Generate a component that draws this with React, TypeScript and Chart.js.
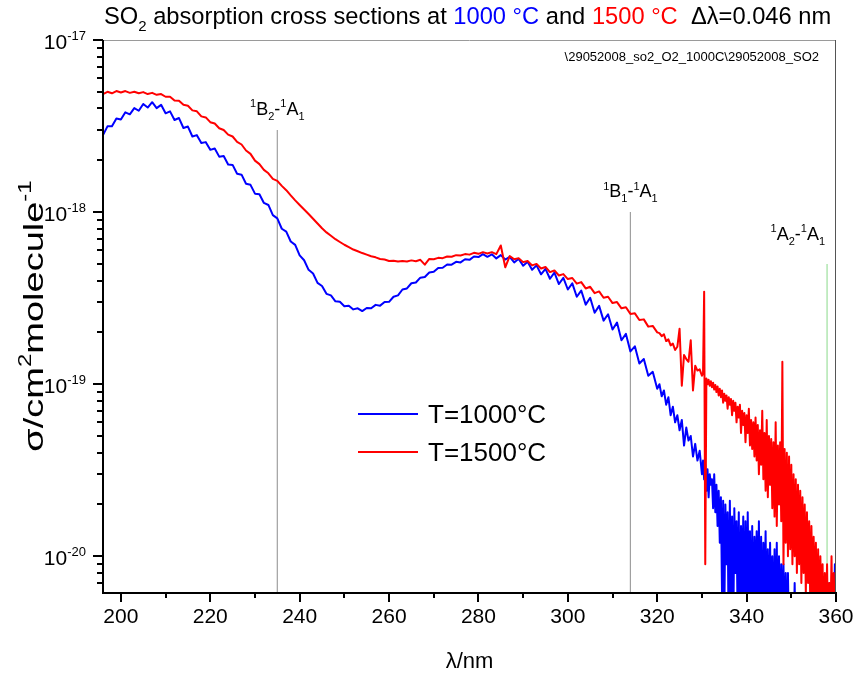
import React, { useEffect, useRef } from "react";
import { Chart, registerables } from "chart.js";

Chart.register(...registerables);

// Wavelength grid (nm)
const WAVELENGTHS = [
  196, 197, 198, 199, 200, 201, 202, 203, 204, 205,
  206, 207, 208, 209, 210, 211, 212, 213, 214, 215,
  216, 217, 218, 219, 220, 221, 222, 223, 224, 225,
  226, 227, 228, 229, 230, 231, 232, 233, 234, 235,
  236, 237, 238, 239, 240, 241, 242, 243, 244, 245,
  246, 247, 248, 249, 250, 251, 252, 253, 254, 255,
  256, 257, 258, 259, 260, 261, 262, 263, 264, 265,
  266, 267, 268, 269, 270, 271, 272, 273, 274, 275,
  276, 277, 278, 279, 280, 281, 282, 283, 284, 285,
  286, 287, 288, 289, 290, 291, 292, 293, 294, 295,
  296, 297, 298, 299, 300, 301, 302, 303, 304, 305,
  306, 307, 308, 309, 310, 311, 312, 313, 314, 315,
  316, 317, 318, 319, 320,
  320.5, 321, 321.5, 322, 322.5, 323, 323.5, 324, 324.5, 325,
  325.5, 326, 326.5, 327, 327.5, 328, 328.5, 329, 329.5, 330,
  330.25, 330.5, 330.75, 331, 331.25, 331.5, 331.75, 332,
  332.25, 332.5, 332.75, 333, 333.25, 333.5, 333.75, 334,
  334.25, 334.5, 334.75, 335, 335.25, 335.5, 335.75, 336,
  336.25, 336.5, 336.75, 337, 337.25, 337.5, 337.75, 338,
  338.25, 338.5, 338.75, 339, 339.25, 339.5, 339.75, 340,
  340.25, 340.5, 340.75, 341, 341.25, 341.5, 341.75, 342,
  342.25, 342.5, 342.75, 343, 343.25, 343.5, 343.75, 344,
  344.25, 344.5, 344.75, 345, 345.25, 345.5, 345.75, 346,
  346.25, 346.5, 346.75, 347, 347.25, 347.5, 347.75, 348,
  348.25, 348.5, 348.75, 349, 349.25, 349.5, 349.75, 350,
  350.25, 350.5, 350.75, 351, 351.25, 351.5, 351.75, 352,
  352.25, 352.5, 352.75, 353, 353.25, 353.5, 353.75, 354,
  354.25, 354.5, 354.75, 355, 355.25, 355.5, 355.75, 356,
  356.25, 356.5, 356.75, 357, 357.25, 357.5, 357.75, 358,
  358.25, 358.5, 358.75, 359, 359.25, 359.5, 359.75, 360,
];

// Cross sections in units of 1e-21 cm^2/molecule
const SIGMA_UNIT = 1e-21;
const SIGMA_1000C = [
  2800, 3150, 3150, 3500, 3450, 3800, 3700, 4020, 3880, 4250,
  4050, 4350, 4020, 4200, 3750, 3850, 3430, 3520, 3080, 3140,
  2750, 2800, 2520, 2550, 2300, 2340, 2100, 2120, 1890, 1880,
  1670, 1650, 1460, 1440, 1280, 1270, 1130, 1100, 960, 920,
  800, 770, 675, 645, 560, 525, 462, 440, 388, 372,
  335, 328, 303, 301, 284, 286, 272, 276, 266, 277,
  276, 289, 286, 300, 301, 322, 328, 355, 360, 386,
  390, 416, 420, 446, 450, 474, 475, 496, 495, 514,
  510, 532, 528, 552, 548, 570, 550, 568, 538, 562,
  530, 550, 510, 535, 488, 515, 462, 490, 435, 468,
  410, 445, 382, 415, 355, 385, 322, 350, 290, 318,
  260, 285, 234, 255, 208, 228, 180, 196, 155, 166,
  132, 140, 112, 118, 94,
  100, 85, 92, 76, 84, 66, 74, 60, 66, 54,
  62, 44, 56, 47, 50, 38, 45, 36, 41, 30,
  36, 28, 34, 24, 32, 22, 30, 26,
  28, 19, 30, 18, 26, 15, 24, 12,
  22, 6, 21, 4, 20, 9, 18, 3,
  21, 5, 17, 3, 19, 8, 16, 4,
  18, 3, 15, 6, 17, 3, 16, 4,
  18, 5, 14, 3, 15, 3, 13, 6,
  14, 4, 16, 3, 13, 3, 12, 5,
  14, 3, 11, 3, 12, 4, 10, 3,
  11, 3, 12, 3, 10, 3, 9, 4,
  9, 3, 8, 3, 8, 3, 6, 3,
  5, 3, 7, 3, 4, 3, 5, 3,
  3, 4, 3, 3, 6, 3, 4, 3,
  3, 3, 5, 3, 7, 3, 3, 4,
  3, 3, 6, 3, 4, 3, 3, 5,
  3, 7, 3, 3, 4, 3, 9, 5,
];
const SIGMA_1500C = [
  4850, 5000, 4900, 5050, 4950, 5050, 4930, 5000, 4900, 4980,
  4850, 4930, 4800, 4850, 4680, 4680, 4450, 4430, 4200, 4150,
  3900, 3850, 3600, 3550, 3330, 3270, 3070, 3000, 2820, 2750,
  2560, 2470, 2280, 2180, 1990, 1900, 1760, 1680, 1560, 1520,
  1420, 1340, 1250, 1170, 1100, 1035, 975, 915, 858, 805,
  762, 728, 696, 670, 646, 626, 606, 592, 578, 566,
  554, 546, 534, 530, 520, 522, 516, 520, 516, 524,
  518, 528, 495, 534, 532, 542, 540, 552, 550, 562,
  560, 570, 566, 580, 572, 585, 575, 585, 570, 640,
  478, 555, 532, 540, 512, 520, 490, 500, 470, 480,
  448, 458, 428, 436, 408, 414, 384, 392, 360, 368,
  338, 346, 318, 322, 296, 300, 276, 280, 256, 258,
  236, 238, 216, 218, 200,
  198, 190, 195, 178, 182, 168, 172, 158, 165, 210,
  98, 148, 140, 135, 180, 92, 128, 120, 122, 112,
  115, 345, 9, 108, 100, 106, 98, 104,
  96, 102, 93, 99, 90, 97, 86, 94,
  84, 92, 78, 88, 80, 86, 72, 84,
  76, 82, 66, 80, 70, 78, 60, 74,
  64, 76, 52, 70, 58, 68, 46, 66,
  52, 72, 44, 62, 42, 60, 38, 64,
  36, 58, 30, 54, 34, 70, 28, 52,
  24, 62, 22, 50, 26, 48, 19, 46,
  17, 60, 15, 44, 20, 46, 16, 135,
  9, 42, 12, 40, 10, 38, 11, 34,
  9, 30, 10, 28, 8, 26, 9, 24,
  7, 22, 8, 20, 6, 18, 7, 16,
  5, 15, 6, 13, 5, 12, 4, 11,
  4, 10, 5, 9, 3, 8, 4, 9,
  3, 7, 4, 10, 3, 8, 4, 7,
];

// Electronic transitions (wavelength marker, marker top value)
const TRANSITION_WAVELENGTHS = [235, 314, 358];
const TRANSITION_TOPS = [3.0e-18, 1.0e-18, 5.0e-19];
const TRANSITION_UPPER = [["B", "2"], ["B", "1"], ["A", "2"]];
const TRANSITION_COLORS = ["#a0a0a0", "#a0a0a0", "#9ee09e"];

const SERIES_LABELS = ["T=1000°C", "T=1500°C"];
const SERIES_COLORS = ["#0000ff", "#ff0000"];

const X_MIN = 196;
const X_MAX = 360;
const Y_MIN = 6.2e-21;
const Y_MAX = 1e-17;
const X_MAJOR_TICKS = [200, 220, 240, 260, 280, 300, 320, 340, 360];
const X_MINOR_TICKS = [210, 230, 250, 270, 290, 310, 330, 350];
const Y_DECADES = [-17, -18, -19, -20];
const Y_MINOR_MANTISSAS = [2, 3, 4, 5, 6, 7, 8, 9];
const Y_MINOR_DECADES = [-18, -19, -20, -21];

const FONT = '"Liberation Sans", Arial, Helvetica, sans-serif';

type Seg = { t: string; c?: string; s?: "sup" | "sub" };

function segFont(sg: Seg, size: number) {
  return `${sg.s ? Math.round(size * 0.62) : size}px ${FONT}`;
}
function richWidth(ctx: CanvasRenderingContext2D, segs: Seg[], size: number) {
  let w = 0;
  for (const sg of segs) {
    ctx.font = segFont(sg, size);
    w += ctx.measureText(sg.t).width;
  }
  return w;
}
function drawRich(
  ctx: CanvasRenderingContext2D,
  segs: Seg[],
  x: number,
  y: number,
  size: number,
  align: "left" | "center" | "right"
) {
  const w = richWidth(ctx, segs, size);
  let cx = align === "center" ? x - w / 2 : align === "right" ? x - w : x;
  ctx.textAlign = "left";
  ctx.textBaseline = "alphabetic";
  for (const sg of segs) {
    ctx.font = segFont(sg, size);
    ctx.fillStyle = sg.c || "#000";
    const dy = sg.s === "sup" ? -size * 0.42 : sg.s === "sub" ? size * 0.3 : 0;
    ctx.fillText(sg.t, cx, y + dy);
    cx += ctx.measureText(sg.t).width;
  }
}

const decorPlugin = {
  id: "decor",
  afterDraw(chart: any) {
    const ctx: CanvasRenderingContext2D = chart.ctx;
    const xs = chart.scales.x;
    const ys = chart.scales.y;
    const { left, right, top, bottom } = chart.chartArea;
    ctx.save();

    // frame
    ctx.strokeStyle = "#9a9a9a";
    ctx.lineWidth = 1;
    ctx.beginPath();
    ctx.moveTo(left, top + 0.5);
    ctx.lineTo(right, top + 0.5);
    ctx.stroke();
    ctx.strokeStyle = "#555";
    ctx.beginPath();
    ctx.moveTo(right - 0.5, top);
    ctx.lineTo(right - 0.5, bottom);
    ctx.stroke();

    ctx.strokeStyle = "#000";
    ctx.lineWidth = 2;
    ctx.beginPath();
    ctx.moveTo(left, top);
    ctx.lineTo(left, bottom + 1);
    ctx.lineTo(right, bottom + 1);
    ctx.stroke();

    // x ticks
    ctx.lineWidth = 2;
    for (const v of X_MAJOR_TICKS) {
      const px = Math.round(xs.getPixelForValue(v));
      ctx.beginPath();
      ctx.moveTo(px, bottom);
      ctx.lineTo(px, bottom + 10);
      ctx.stroke();
    }
    for (const v of X_MINOR_TICKS) {
      const px = Math.round(xs.getPixelForValue(v));
      ctx.beginPath();
      ctx.moveTo(px, bottom);
      ctx.lineTo(px, bottom + 6);
      ctx.stroke();
    }
    // y ticks
    for (const e of Y_DECADES) {
      const py = Math.round(ys.getPixelForValue(Math.pow(10, e)));
      ctx.beginPath();
      ctx.moveTo(left - 10, py);
      ctx.lineTo(left, py);
      ctx.stroke();
    }
    for (const e of Y_MINOR_DECADES) {
      for (const m of Y_MINOR_MANTISSAS) {
        const v = m * Math.pow(10, e);
        if (v < Y_MIN || v > Y_MAX) continue;
        const py = Math.round(ys.getPixelForValue(v));
        ctx.beginPath();
        ctx.moveTo(left - 6, py);
        ctx.lineTo(left, py);
        ctx.stroke();
      }
    }

    // x tick labels
    ctx.fillStyle = "#000";
    ctx.font = `21px ${FONT}`;
    ctx.textAlign = "center";
    ctx.textBaseline = "alphabetic";
    for (const v of X_MAJOR_TICKS) {
      ctx.fillText(String(v), xs.getPixelForValue(v), bottom + 31);
    }
    // y tick labels
    for (const e of Y_DECADES) {
      const py = ys.getPixelForValue(Math.pow(10, e));
      drawRich(ctx, [{ t: "10" }, { t: String(e), s: "sup" }], left - 17, py + 9, 21, "right");
    }

    // axis titles
    drawRich(ctx, [{ t: "λ/nm" }], (left + right) / 2, bottom + 76, 22, "center");
    ctx.save();
    ctx.translate(43, (top + bottom) / 2);
    ctx.rotate(-Math.PI / 2);
    ctx.scale(1, 0.75);
    drawRich(
      ctx,
      [{ t: "σ/cm" }, { t: "2", s: "sup" }, { t: "molecule" }, { t: "-1", s: "sup" }],
      0,
      0,
      38,
      "center"
    );
    ctx.restore();

    // title
    drawRich(
      ctx,
      [
        { t: "SO" },
        { t: "2", s: "sub" },
        { t: " absorption cross sections at " },
        { t: "1000 °C", c: "#0000ff" },
        { t: " and " },
        { t: "1500 °C", c: "#ff0000" },
        { t: "  Δλ=0.046 nm" },
      ],
      left + 1,
      24,
      23.7,
      "left"
    );

    // file path
    ctx.fillStyle = "#000";
    ctx.font = `13px ${FONT}`;
    ctx.textAlign = "right";
    ctx.fillText("\\29052008_so2_O2_1000C\\29052008_SO2", right - 17, top + 21);

    // transition labels
    TRANSITION_WAVELENGTHS.forEach((w, i) => {
      const px = xs.getPixelForValue(w);
      const py = ys.getPixelForValue(TRANSITION_TOPS[i]);
      const segs: Seg[] = [
        { t: "1", s: "sup" },
        { t: TRANSITION_UPPER[i][0] },
        { t: TRANSITION_UPPER[i][1], s: "sub" },
        { t: "-" },
        { t: "1", s: "sup" },
        { t: "A" },
        { t: "1", s: "sub" },
      ];
      if (i === 2) drawRich(ctx, segs, px - 2, py - 24, 18, "right");
      else drawRich(ctx, segs, px, py - 15, 18, "center");
    });

    // legend
    SERIES_LABELS.forEach((lab, i) => {
      const ly = 414 + i * 38;
      ctx.strokeStyle = SERIES_COLORS[i];
      ctx.lineWidth = 2;
      ctx.beginPath();
      ctx.moveTo(358, ly);
      ctx.lineTo(418, ly);
      ctx.stroke();
      drawRich(ctx, [{ t: lab }], 428, ly + 9, 26, "left");
    });

    ctx.restore();
  },
};

export default function App() {
  const ref = useRef<HTMLCanvasElement>(null);
  useEffect(() => {
    document.body.style.margin = "0";
    const canvas = ref.current!;
    const toPts = (vals: number[]) => vals.map((v, i) => ({ x: WAVELENGTHS[i], y: v * SIGMA_UNIT }));
    const markerSets = TRANSITION_WAVELENGTHS.map((w, i) => ({
      data: [
        { x: w, y: TRANSITION_TOPS[i] },
        { x: w, y: 1e-22 },
      ],
      borderColor: TRANSITION_COLORS[i],
      borderWidth: 1.2,
      pointRadius: 0,
      order: 5,
    }));
    const chart = new Chart(canvas, {
      type: "line",
      data: {
        datasets: [
          {
            label: SERIES_LABELS[1],
            data: toPts(SIGMA_1500C),
            borderColor: SERIES_COLORS[1],
            borderWidth: 2,
            pointRadius: 0,
            borderJoinStyle: "round",
            order: 1,
          },
          {
            label: SERIES_LABELS[0],
            data: toPts(SIGMA_1000C),
            borderColor: SERIES_COLORS[0],
            borderWidth: 2,
            pointRadius: 0,
            borderJoinStyle: "round",
            order: 2,
          },
          ...markerSets,
        ] as any,
      },
      options: {
        animation: false,
        responsive: false,
        layout: { padding: { left: 103, top: 40, right: 19, bottom: 90 } },
        scales: {
          x: { type: "linear", min: X_MIN, max: X_MAX, display: false },
          y: { type: "logarithmic", min: Y_MIN, max: Y_MAX, display: false },
        },
        plugins: { legend: { display: false }, tooltip: { enabled: false } },
        elements: { line: { tension: 0 } },
      },
      plugins: [decorPlugin],
    });
    return () => chart.destroy();
  }, []);
  return (
    <div style={{ width: 855, height: 682, background: "#fff" }}>
      <canvas ref={ref} width={855} height={682} style={{ display: "block", width: 855, height: 682 }} />
    </div>
  );
}
